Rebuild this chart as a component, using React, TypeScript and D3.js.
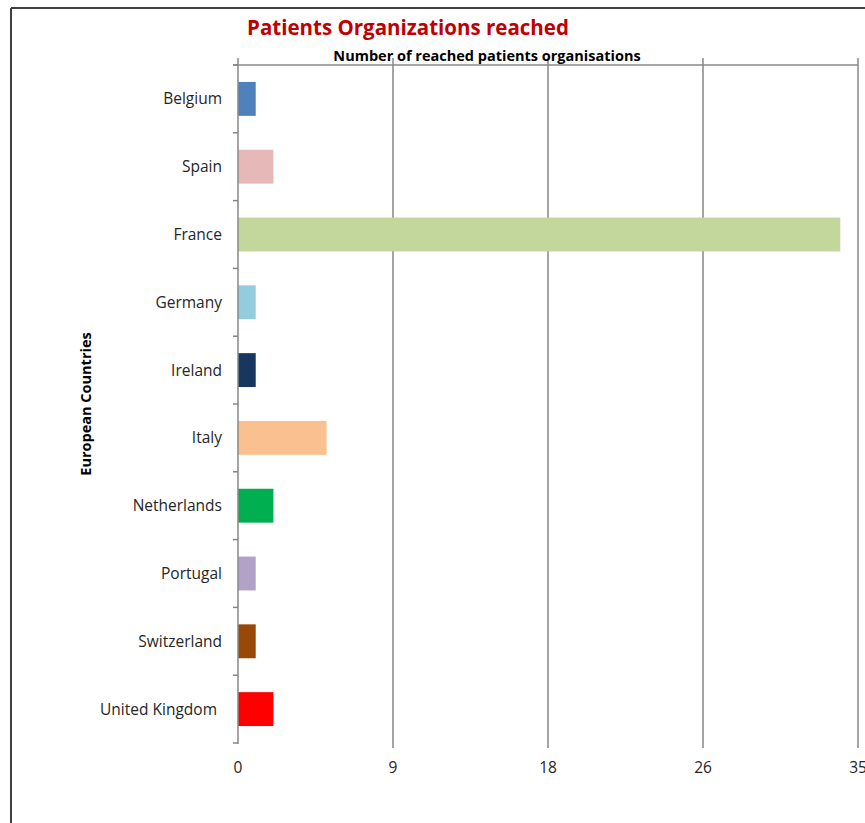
import React from "react";
import * as d3 from "d3";

const countries = [
  "Belgium",
  "Spain",
  "France",
  "Germany",
  "Ireland",
  "Italy",
  "Netherlands",
  "Portugal",
  "Switzerland",
  "United Kingdom",
];
const values = [1, 2, 34, 1, 1, 5, 2, 1, 1, 2];
const barColors = [
  "#4F81BD",
  "#E6B9B8",
  "#C3D69B",
  "#93CDDD",
  "#17375E",
  "#FAC090",
  "#00B050",
  "#B3A2C7",
  "#984807",
  "#FF0000",
];
const tickValues = [0, 8.75, 17.5, 26.25, 35];
const tickLabels = ["0", "9", "18", "26", "35"];
const title = "Patients Organizations reached";
const xTitle = "Number of reached patients organisations";
const yTitle = "European Countries";

const W = 865;
const H = 823;
const M = { left: 238, right: 858, top: 65, bottom: 743 };
const FONT = "'Open Sans', Lato, sans-serif";
const GRID = "#878787";

export default function App() {
  const x = d3.scaleLinear().domain([0, 35]).range([M.left, M.right]);
  const y = d3
    .scaleBand<string>()
    .domain(countries)
    .range([M.top, M.bottom])
    .paddingInner(0.5)
    .paddingOuter(0.25);
  const step = y.step();
  const boundaries = d3.range(countries.length + 1).map((i) => M.top + i * step);

  return (
    <svg
      width={W}
      height={H}
      style={{ position: "absolute", left: 0, top: 0, background: "#fff" }}
      fontFamily={FONT}
    >
      <rect x={0} y={0} width={W} height={H} fill="#fff" />
      {/* outer frame */}
      <line x1={11} x2={11} y1={8} y2={H} stroke="#404040" strokeWidth={2} />
      <line x1={11} x2={W} y1={8} y2={8} stroke="#404040" strokeWidth={2} />

      {/* vertical gridlines */}
      {tickValues.map((t, i) =>
        i === 0 ? null : (
          <line
            key={"g" + i}
            x1={x(t)}
            x2={x(t)}
            y1={M.top - 7}
            y2={M.bottom + 5}
            stroke={GRID}
            strokeWidth={1.5}
          />
        )
      )}
      {/* top axis line */}
      <line x1={M.left - 5} x2={M.right} y1={M.top} y2={M.top} stroke={GRID} strokeWidth={1.5} />
      <line x1={x(0)} x2={x(0)} y1={M.top - 7} y2={M.top} stroke={GRID} strokeWidth={1.5} />

      {/* bars */}
      {countries.map((c, i) => (
        <rect
          key={c}
          x={x(0)}
          y={y(c)}
          width={x(values[i]) - x(0)}
          height={y.bandwidth()}
          fill={barColors[i]}
        />
      ))}

      {/* left axis */}
      <line x1={x(0)} x2={x(0)} y1={M.top} y2={M.bottom + 1} stroke={GRID} strokeWidth={1.5} />
      {boundaries.map((b, i) => (
        <line key={"t" + i} x1={M.left - 5} x2={M.left} y1={b} y2={b} stroke={GRID} strokeWidth={1.5} />
      ))}

      {/* category labels */}
      {countries.map((c) => (
        <text
          key={"l" + c}
          x={c === "United Kingdom" ? 217 : 222}
          y={(y(c) as number) + y.bandwidth() / 2}
          dy="0.35em"
          textAnchor="end"
          fontSize={15.5}
          fill="#262626"
        >
          {c}
        </text>
      ))}

      {/* bottom tick labels */}
      {tickValues.map((t, i) => (
        <text
          key={"b" + i}
          x={x(t)}
          y={768}
          dy="0.35em"
          textAnchor="middle"
          fontSize={15.5}
          fill="#262626"
        >
          {tickLabels[i]}
        </text>
      ))}

      {/* titles */}
      <text x={408} y={35} textAnchor="middle" fontSize={20.5} fontWeight="bold" fill="#C00000">
        {title}
      </text>
      <text x={487} y={61} textAnchor="middle" fontSize={14.5} fontWeight="bold" fill="#000">
        {xTitle}
      </text>
      <text
        transform={`translate(91,404) rotate(-90)`}
        textAnchor="middle"
        fontSize={14.5}
        fontWeight="bold"
        fill="#000"
      >
        {yTitle}
      </text>
    </svg>
  );
}
